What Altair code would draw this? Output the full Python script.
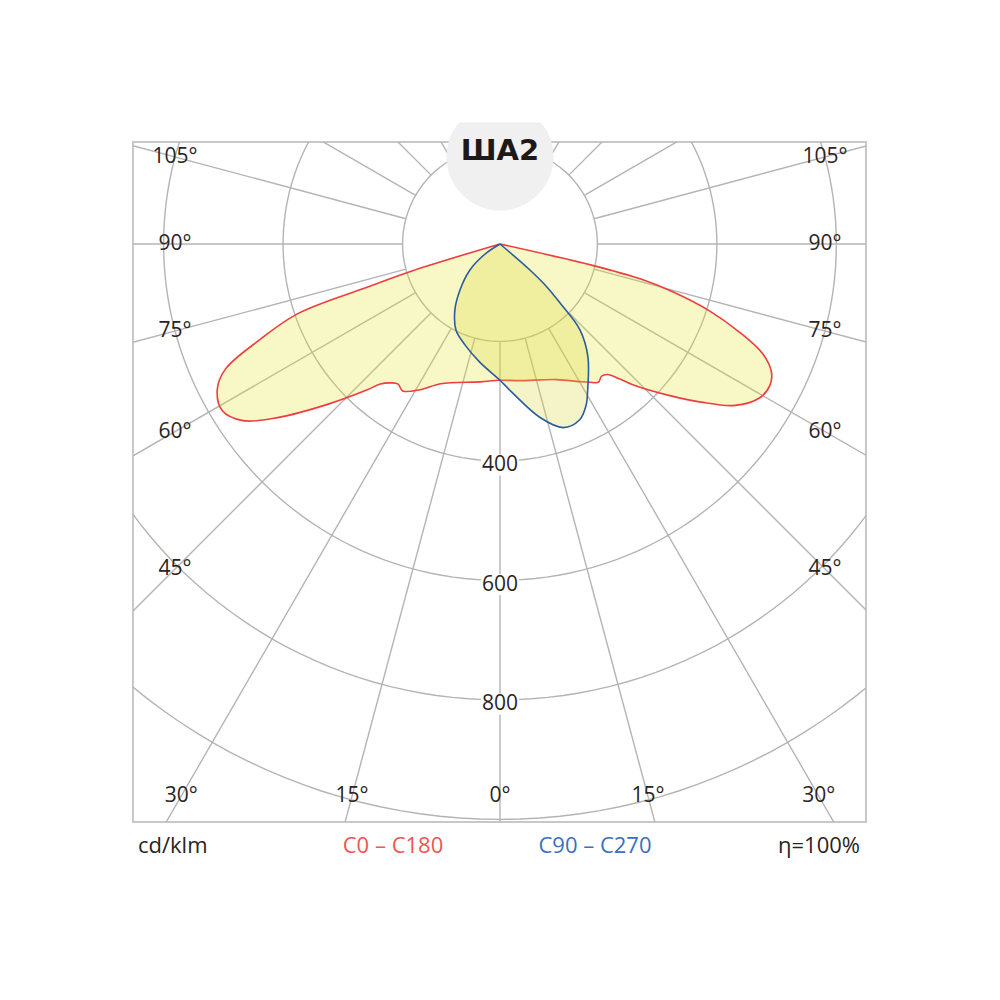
import altair as alt
import pandas as pd

# ---------------- data ----------------
title_text = "ША2"
unit_label = "cd/klm"
series_names = ["C0 – C180", "C90 – C270"]
efficiency_label = "η=100%"

ring_values = [200, 400, 600, 800, 1000]
ring_label_values = [400, 600, 800]
spoke_angles = list(range(-180, 181, 15))
angle_label_values = [-105, -90, -75, -60, -45, -30, -15, 0, 15, 30, 45, 60, 75, 90, 105]

# C0 - C180 plane (negative angle = C180 side, left)
c0_angles = [-74, -73, -72, -71, -68.3, -65.5, -62.8, -59, -55.5, -52, -47, -42.3,
             -40.5, -38, -36, -33.5, -28.7, -23, -8, 0, 8, 22.7, 30, 33, 35.5, 37.5,
             39.5, 41.5, 43.5, 48, 51.8, 55.5, 59.3, 62.4, 64.8, 67.3, 69.8, 72.3,
             74.5, 76, 77, 78]
c0_values = [0, 191, 271, 395, 469, 542, 569, 579, 559, 509, 430, 367,
             345, 332, 327, 332, 315, 291, 270, 265, 268, 283, 303, 313, 321, 316,
             320, 338, 363, 415, 465, 514, 542, 547, 539, 514, 464, 405,
             338, 280, 196, 0]

# C90 - C270 plane
c90_angles = [-58, -56, -49, -41, -34.3, -27, -19, -9.6, 0, 5, 13, 19,
              24.4, 28.1, 31, 38, 43, 45.5, 47.5, 49, 50]
c90_values = [0, 67, 104, 139, 171, 199, 216, 238, 265, 288, 335, 362,
              360, 343, 322, 276, 233, 178, 144, 104, 0]

# ---------------- geometry / style ----------------
OFFSET = 37          # grid radius origin (cd/klm)
X_DOM = [-614.2, 612.6]
Y_DOM = [-967.4, 170.7]
W, H = 733, 680
GRID = "#b4b4b4"
TXT = "#2a2422"
FONT = "Open Sans"

xs = alt.Scale(domain=X_DOM, nice=False, zero=False)
ys = alt.Scale(domain=Y_DOM, nice=False, zero=False)


def X(f="x"):
    return alt.X(f"{f}:Q", scale=xs, axis=None)


def Y(f="y"):
    return alt.Y(f"{f}:Q", scale=ys, axis=None)


# rings
ring_rows = [{"ring": v, "phi": p} for v in ring_values for p in range(0, 362, 2)]
rings = (
    alt.Chart(pd.DataFrame(ring_rows))
    .transform_calculate(
        R=f"datum.ring - {OFFSET}",
        x="datum.R * cos(datum.phi * PI / 180)",
        y="datum.R * sin(datum.phi * PI / 180)",
    )
    .mark_line(clip=True, color=GRID, strokeWidth=1.4)
    .encode(x=X(), y=Y(), detail="ring:N", order="phi:Q")
)

# spokes
spokes = (
    alt.Chart(pd.DataFrame({"a": spoke_angles}))
    .transform_calculate(
        x=f"({ring_values[0]} - {OFFSET}) * sin(datum.a * PI / 180)",
        y=f"-({ring_values[0]} - {OFFSET}) * cos(datum.a * PI / 180)",
        x2="3000 * sin(datum.a * PI / 180)",
        y2="-3000 * cos(datum.a * PI / 180)",
    )
    .mark_rule(clip=True, color=GRID, strokeWidth=1.4)
    .encode(x=X(), y=Y(), x2="x2:Q", y2="y2:Q")
)

# title circle (clipped on top)
circ = (
    alt.Chart(pd.DataFrame({"phi": list(range(0, 363, 3))}))
    .transform_calculate(
        x="88.7 * cos(datum.phi * PI / 180)",
        y="min(145.6 + 88.7 * sin(datum.phi * PI / 180), 202.5)",
    )
    .mark_line(fill="#f0f0f0", stroke="#f0f0f0", strokeWidth=1)
    .encode(x=X(), y=Y(), order="phi:Q")
)


def curve(angles, values, fill, fill_op, stroke):
    df = pd.DataFrame({"i": range(len(angles)), "a": angles, "v": values})
    return (
        alt.Chart(df)
        .transform_calculate(
            R=f"max(0, datum.v - {OFFSET})",
            x="datum.R * sin(datum.a * PI / 180)",
            y="-datum.R * cos(datum.a * PI / 180)",
        )
        .mark_line(fill=fill, fillOpacity=fill_op, stroke=stroke, strokeWidth=1.6,
                   strokeJoin="round", interpolate="catmull-rom")
        .encode(x=X(), y=Y(), order="i:Q")
    )


red = curve(c0_angles, c0_values, "#e5e326", 0.26, "#ef3d3d")
blue = curve(c90_angles, c90_values, "#d8d535", 0.27, "#2a5c9e")

# ring labels with white background
rl = pd.DataFrame({"v": ring_label_values})
ring_bg = (
    alt.Chart(rl)
    .transform_calculate(x="0", y=f"-(datum.v - {OFFSET}) - 7")
    .mark_point(shape="M-1,-0.55L1,-0.55L1,0.55L-1,0.55Z", size=38 * 38,
                filled=True, color="white", opacity=1)
    .encode(x=X(), y=Y())
)
ring_txt = (
    alt.Chart(rl)
    .transform_calculate(x="0", y=f"-(datum.v - {OFFSET}) - 7", t="datum.v + ''")
    .mark_text(font=FONT, fontSize=21, fontWeight=400, color=TXT, baseline="middle")
    .encode(x=X(), y=Y(), text="t:N")
)

# angle labels
ang = (
    alt.Chart(pd.DataFrame({"a": angle_label_values}))
    .transform_calculate(
        aa="abs(datum.a)",
        s="datum.a < 0 ? -1 : 1",
        x="datum.aa <= 30 ? datum.s * 924 * tan(datum.aa * PI / 180) : datum.s * 544",
        y="datum.aa <= 30 ? -924 : -544 / tan(datum.aa * PI / 180)",
        t="datum.aa + '°'",
    )
    .mark_text(font=FONT, fontSize=21, fontWeight=400, color=TXT, baseline="middle")
    .encode(x=X(), y=Y(), text="t:N")
)

one = pd.DataFrame({"k": [0]})


def label(text, px, py, align, color, size=22, weight=400, font=FONT):
    return (
        alt.Chart(one)
        .mark_text(text=text, align=align, baseline="middle", font=font,
                   fontSize=size, fontWeight=weight, color=color)
        .encode(x=alt.value(px), y=alt.value(py))
    )


title = label(title_text, 367, 9, "center", "#1e1818", size=29, weight="bold",
              font="DejaVu Sans")
leg1 = label(unit_label, 5, 704, "left", TXT)
leg2 = label(series_names[0], 260, 704, "center", "#f05454")
leg3 = label(series_names[1], 462, 704, "center", "#3b6fbf")
leg4 = label(efficiency_label, 727, 704, "right", TXT)

chart = (
    alt.layer(rings, spokes, circ, red, blue, ring_bg, ring_txt, ang,
              title, leg1, leg2, leg3, leg4)
    .properties(
        width=W, height=H,
        autosize=alt.AutoSizeParams(type="none"),
        padding={"left": 125, "top": 134, "right": 126, "bottom": 170},
    )
    .configure_view(stroke="#c8c8c8", strokeWidth=2)
)

chart.save("out.html", embed_options={"renderer": "svg", "actions": False})
